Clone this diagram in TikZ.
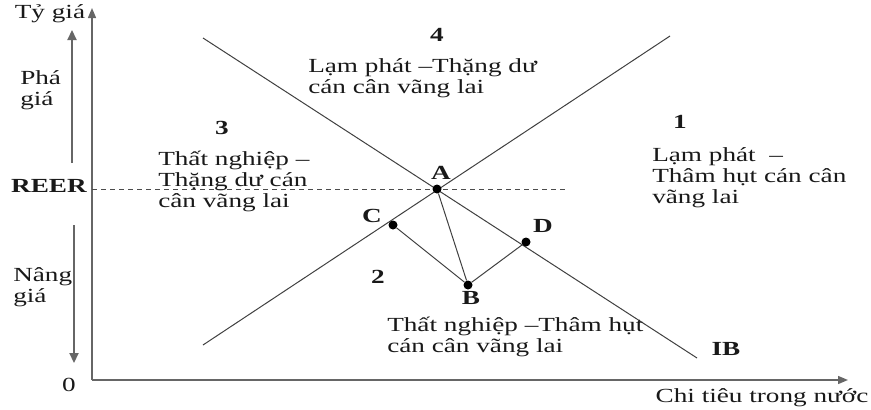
\documentclass[tikz,border=0pt]{standalone}
\usepackage{fontspec}
\setmainfont{Liberation Serif}
\usetikzlibrary{arrows.meta}

\begin{document}
\begin{tikzpicture}[x=1pt,y=-1pt,
  lbl/.style={font=\fontsize{20}{21}\selectfont,xscale=1.36,inner sep=0pt,align=left,text=black!90},
  num/.style={lbl,font=\fontsize{20}{21}\selectfont\bfseries},
  dot/.style={circle,fill=black,inner sep=0pt,minimum size=9pt},
  curve/.style={draw=black!75,line width=1pt},
  axis/.style={draw=black!60,line width=1.4pt,-{Triangle[length=10pt,width=8pt]}},
  trend/.style={draw=black!60,line width=2.2pt,-{Triangle[length=10pt,width=9pt]}}]
  \useasboundingbox (0,0) rectangle (871,410);
  % Axes
  \coordinate (O) at (92,380);
  \coordinate (ytop) at (92,8);
  \coordinate (xend) at (848,380);
  \draw[axis] (O) -- (ytop);
  \draw[axis] (O) -- (xend);
  \node[lbl] (zero) at (69,385) {0};
  \node[lbl] (ylab) at (50,14) {Tỷ giá};
  \node[lbl] (xlab) at (762,398) {Chi tiêu trong nước};
  % Devaluation / appreciation arrows
  \coordinate (up0) at (72,163);
  \coordinate (up1) at (72,30);
  \coordinate (dn0) at (74,225);
  \coordinate (dn1) at (74,363);
  \draw[trend] (up0) -- (up1);
  \draw[trend] (dn0) -- (dn1);
  \node[lbl,anchor=west] (pha) at (20,90) {Phá\\giá};
  \node[lbl,anchor=west] (nang) at (13,287) {Nâng\\giá};
  % REER level
  \node[num] (reer) at (49,186) {REER};
  \coordinate (reer0) at (92,189);
  \coordinate (reer1) at (567,189);
  \draw[black!70,line width=0.9pt,dash pattern=on 5pt off 4pt] (reer0) -- (reer1);
  % IB line and the rising line
  \coordinate (ib0) at (203,38);
  \coordinate (ib1) at (697,358);
  \coordinate (ie0) at (203,345);
  \coordinate (ie1) at (670,36);
  \draw[curve] (ib0) -- (ib1);
  \draw[curve] (ie0) -- (ie1);
  \node[num] (ib) at (726,349) {IB};
  % Points
  \foreach \n/\p in {A/{437,189},B/{468,285},C/{393,225},D/{526,242}}
    \node[dot] (\n) at (\p) {};
  \draw[curve] (A) -- (B);
  \draw[curve] (C) -- (B) -- (D);
  \node[num] (lA) at (441,173) {A};
  \node[num] (lB) at (471,298) {B};
  \node[num] (lC) at (372,216) {C};
  \node[num] (lD) at (543,226) {D};
  % Zones
  \node[num] (z4) at (437,35) {4};
  \node[lbl,anchor=west] (t4) at (308,78) {Lạm phát –Thặng dư\\cán cân vãng lai};
  \node[num] (z3) at (222,128) {3};
  \node[lbl,anchor=west] (t3) at (158,181) {Thất nghiệp –\\Thặng dư cán\\cân vãng lai};
  \node[num] (z1) at (680,122) {1};
  \node[lbl,anchor=west] (t1) at (652,178) {Lạm phát \ –\\Thâm hụt cán cân\\vãng lai};
  \node[num] (z2) at (378,277) {2};
  \node[lbl,anchor=west] (t2) at (387,337) {Thất nghiệp –Thâm hụt\\cán cân vãng lai};
\end{tikzpicture}
\end{document}
